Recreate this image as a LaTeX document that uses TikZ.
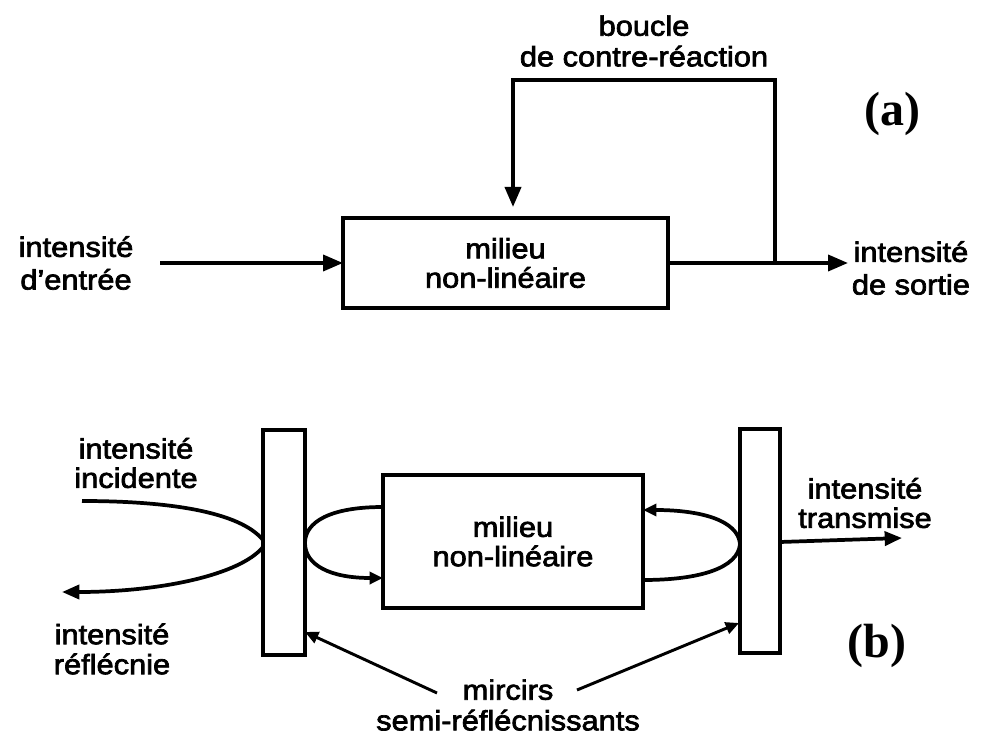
\documentclass[tikz,border=0pt]{standalone}
\usepackage{fontspec}
\setmainfont{Liberation Sans}[FakeStretch=1.1,FakeBold=2.5]
\newfontfamily\serifbf{Liberation Serif Bold}
\usetikzlibrary{arrows.meta}
\begin{document}
\begin{tikzpicture}[x=0.75pt,y=-0.75pt,line width=2.8pt,
  box/.style={draw,line width=3pt,inner sep=0pt,outer sep=0pt,align=center},
  lbl/.style={align=center,inner sep=0pt},
  big/.style={-{Triangle[length=15pt,width=12pt]}},
  mid/.style={-{Triangle[length=13pt,width=10.5pt]}},
  small/.style={-{Triangle[length=10pt,width=9pt]}},
  panel/.style={inner sep=0pt,font=\serifbf\fontsize{36}{36}\selectfont}]
\useasboundingbox (0,0) rectangle (984,737);

% ---------------- (a) ----------------
\node[box,minimum width=243.75pt,minimum height=67.5pt,
      font=\fontsize{21}{22}\selectfont] (boxa) at (505.5,263) {milieu\\non-linéaire};
\node[lbl,font=\fontsize{21}{24.5}\selectfont] (ina) at (76,263) {intensité\\d'entrée};
\node[lbl,anchor=west,font=\fontsize{21}{24.5}\selectfont] (outa) at (850,268) {intensité\\de sortie};
\node[lbl,font=\fontsize{21}{23}\selectfont] (fbl) at (644,41) {boucle\\de contre-réaction};
\node[panel] (la) at (892,114) {(a)};

\coordinate (in0) at (160,263);
\coordinate (outtip) at (848,263);
\coordinate (fb0) at (775,263);
\coordinate (fb1) at (775,80);
\coordinate (fb2) at (513,80);
\coordinate (fbtip) at (513,207);

\draw[big] (in0) -- (boxa.west);
\draw[big] (boxa.east) -- (outtip);
\draw[big] (fb0) -- (fb1) -- (fb2) -- (fbtip);

% ---------------- (b) ----------------
\node[box,minimum width=31.5pt,minimum height=168.75pt] (m1) at (284,542.5) {};
\node[box,minimum width=30pt,minimum height=168pt] (m2) at (760,541) {};
\node[box,minimum width=195pt,minimum height=99.75pt,
      font=\fontsize{21}{22}\selectfont] (boxb) at (513,541.5) {milieu\\non-linéaire};

\node[lbl,font=\fontsize{21}{22}\selectfont] (inc) at (136,463) {intensité\\incidente};
\node[lbl,font=\fontsize{21}{22.5}\selectfont] (refl) at (112,649) {intensité\\réflécnie};
\node[lbl,font=\fontsize{21}{22}\selectfont] (trans) at (865,503) {intensité\\transmise};
\node[lbl,font=\fontsize{21}{23}\selectfont] (mir) at (508,705) {mircirs\\semi-réflécnissants};
\node[panel] (lb) at (877,646) {(b)};

\coordinate (bl1) at (383,507);
\coordinate (bl2) at (383,578);
\coordinate (m1r) at (305,543);
\coordinate (br1) at (643,510);
\coordinate (br2) at (643,580);
\coordinate (m2l) at (740,544);
\coordinate (inc0) at (82,501);
\coordinate (m1a) at (263,540);
\coordinate (m1b) at (263,547);
\coordinate (refltip) at (62,592);
\coordinate (m2r) at (780,542);
\coordinate (transtip) at (902,538);
\coordinate (p1) at (437,693);
\coordinate (p1tip) at (305,632);
\coordinate (p2) at (577,690);
\coordinate (p2tip) at (739,623);

% left cavity loop
\draw[small] (bl1) .. controls (330,507) and (305,522) .. (m1r)
                   .. controls (305,565) and (330,578) .. (bl2);
% right cavity loop
\draw[small] (br2) .. controls (700,580) and (738,568) .. (m2l)
                   .. controls (738,520) and (700,510) .. (br1);
% incident and reflected beams
\draw (inc0) .. controls (170,501) and (240,512) .. (m1a);
\draw[mid] (m1b) .. controls (240,575) and (160,592) .. (refltip);
% transmitted beam
\draw[mid] (m2r) -- (transtip);
% pointers to the mirrors
\draw[line width=2.2pt,small] (p1) -- (p1tip);
\draw[line width=2.2pt,small] (p2) -- (p2tip);
\end{tikzpicture}
\end{document}
